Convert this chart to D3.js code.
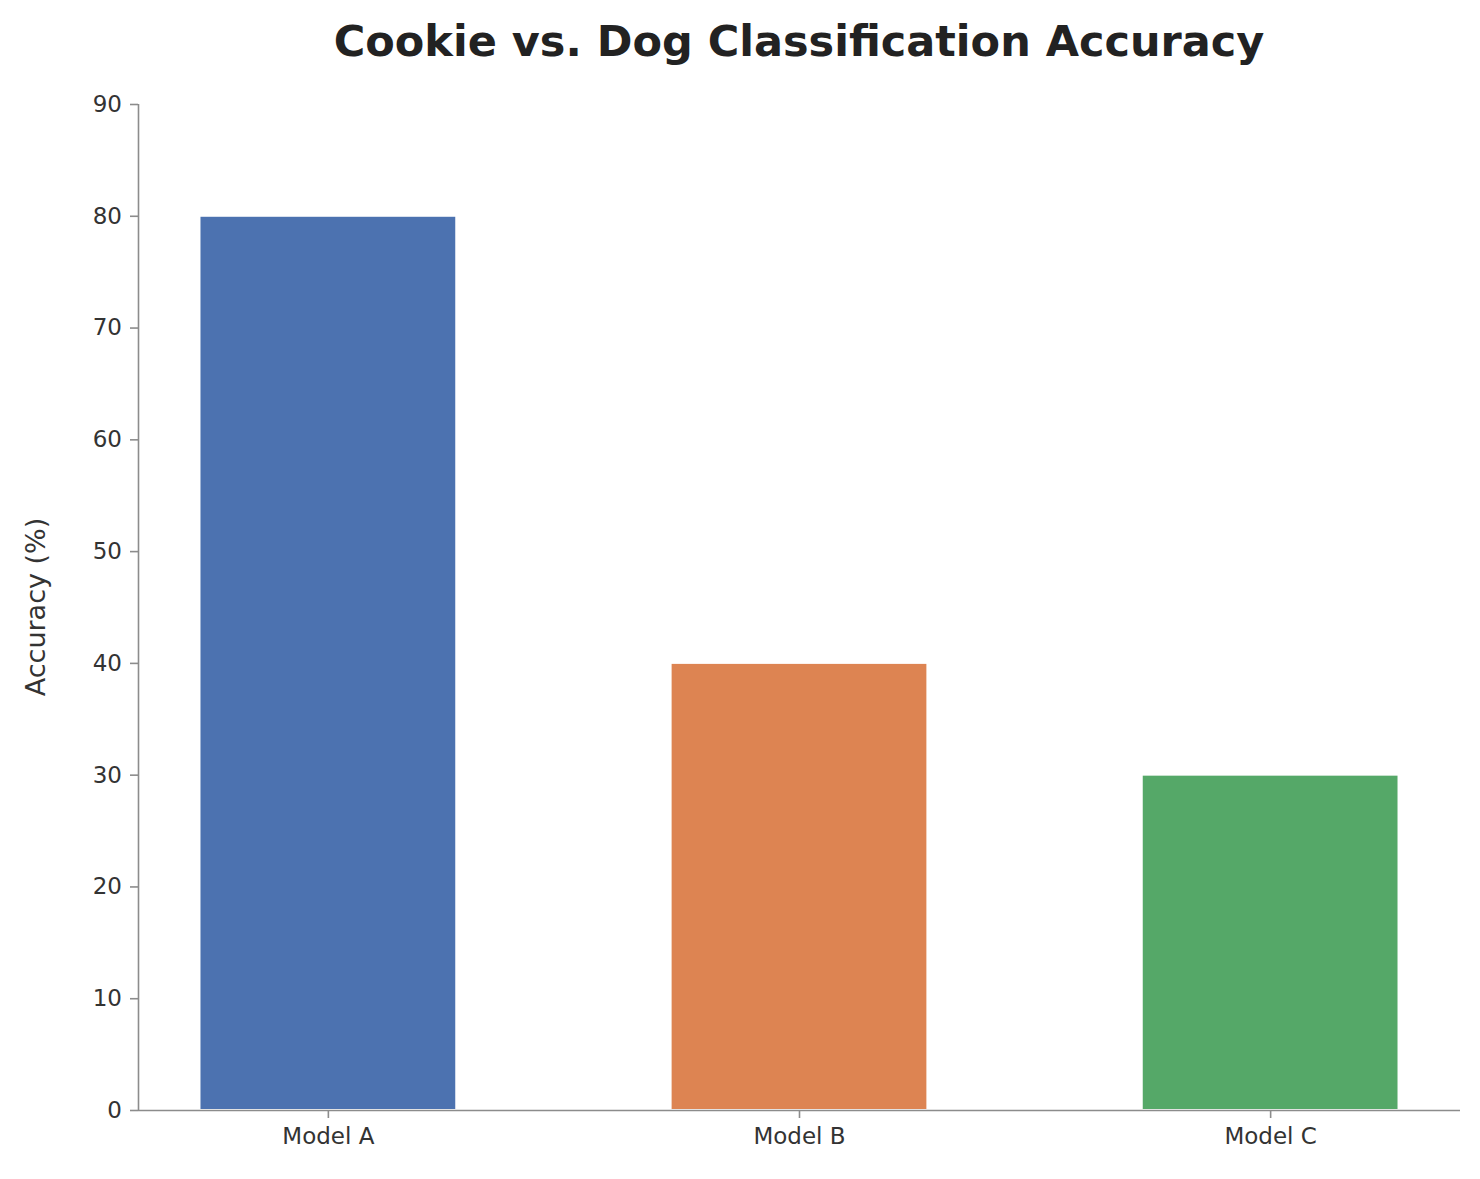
<!DOCTYPE html>
<html><head><meta charset="utf-8">
<script src="https://cdn.jsdelivr.net/npm/d3@7"></script>
<style>body{margin:0;background:#fff}</style></head>
<body><svg id="c" width="1480" height="1179"></svg>
<script>
const categories = ["Model A","Model B","Model C"];
const values = [80,40,30];
const colors = ["#4c72b0","#dd8452","#55a868"];
const yTicks = [0,10,20,30,40,50,60,70,80,90];

const svg = d3.select("#c");
const L=138,R=1460,T=104,B=1110;
const x = d3.scaleLinear().domain([-0.403,2.403]).range([L,R]);
const y = d3.scaleLinear().domain([0,90]).range([B,T]);
const bw = 0.545;
const font = "DejaVu Sans, sans-serif";

svg.selectAll("rect.bar").data(values).enter().append("rect")
  .attr("x",(d,i)=>x(i-bw/2)).attr("width",x(bw)-x(0))
  .attr("y",d=>y(d)).attr("height",d=>y(0)-y(d))
  .attr("fill",(d,i)=>colors[i]).attr("stroke","#fff").attr("stroke-width",2);

const ya = svg.append("g").attr("transform",`translate(${L},0)`)
  .call(d3.axisLeft(y).tickValues(yTicks).tickSize(8).tickPadding(8));
const xa = svg.append("g").attr("transform",`translate(0,${B})`)
  .call(d3.axisBottom(x).tickValues([0,1,2]).tickFormat(i=>categories[i]).tickSize(8).tickPadding(10));
xa.select(".domain").attr("d",`M${L},0.5H${R}`);
ya.select(".domain").attr("d",`M0.5,${B}V${T}`);
[xa,ya].forEach(a=>{
  a.selectAll(".domain,line").attr("stroke","#8c8c8c").attr("stroke-width",1.6);
  a.selectAll("text").attr("font-family",font).attr("font-size",23).attr("fill","#333");
});

svg.append("text").attr("x",799).attr("y",56).attr("text-anchor","middle")
  .attr("font-family",font).attr("font-weight","bold").attr("font-size",43).attr("fill","#222")
  .text("Cookie vs. Dog Classification Accuracy");
svg.append("text").attr("transform",`translate(45,${(T+B)/2}) rotate(-90)`).attr("text-anchor","middle")
  .attr("font-family",font).attr("font-size",27).attr("fill","#333").text("Accuracy (%)");
</script></body></html>
